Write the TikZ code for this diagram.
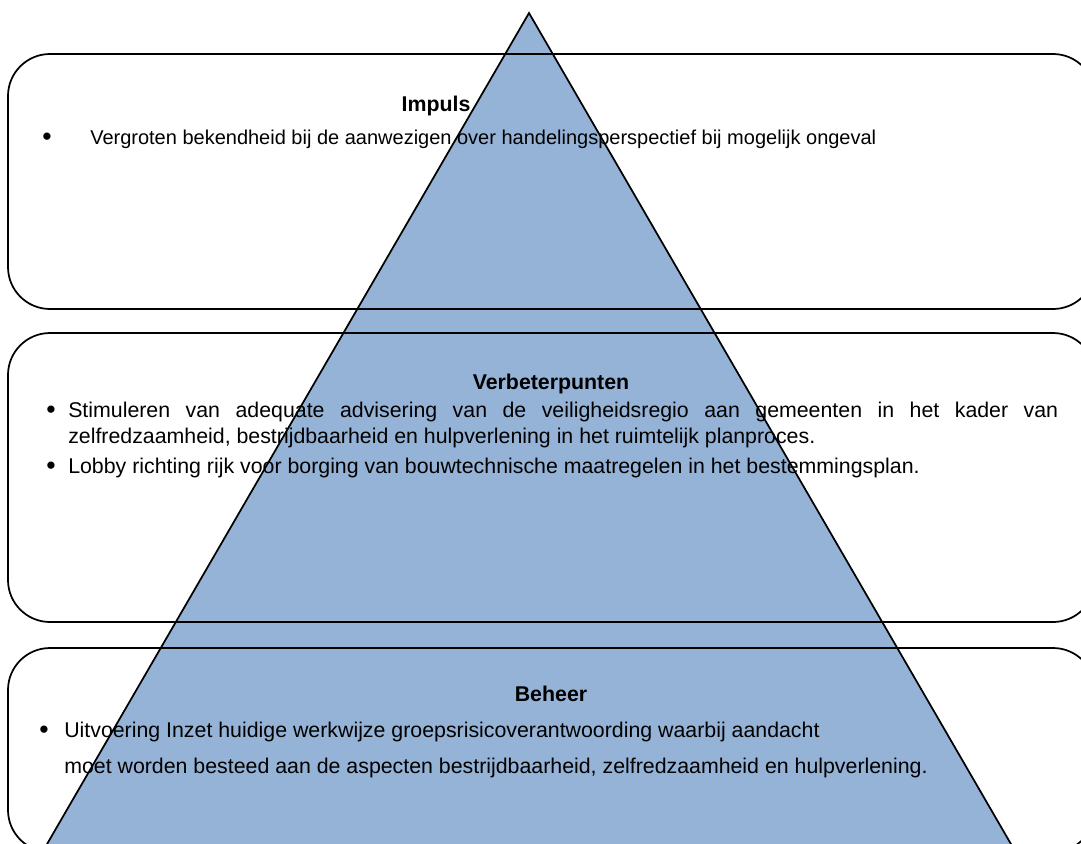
\documentclass[tikz,border=0pt]{standalone}
\usepackage{fontspec}
\setmainfont{Liberation Sans}
\definecolor{pyramidblue}{RGB}{149,179,215}
\tikzset{
  panel/.style={line width=1.3pt, rounded corners=31.5pt},
  head/.style={anchor=base, inner sep=0pt, font=\bfseries\fontsize{16}{19}\selectfont},
  txt/.style={anchor=base west, inner sep=0pt, font=\fontsize{16}{19}\selectfont},
  smalltxt/.style={anchor=base west, inner sep=0pt, font=\fontsize{15}{18}\selectfont},
  dot/.style={anchor=base, inner sep=0pt, font=\fontsize{20}{22}\selectfont}
}

\begin{document}
\begin{tikzpicture}[x=0.75pt,y=-0.75pt]
\useasboundingbox (0,0) rectangle (1081,843);
\fill[white] (0,0) rectangle (1081,843);

% pyramid
\draw[line width=1.3pt, fill=pyramidblue, line join=miter] (529,13) -- (1015,851) -- (43,851) -- cycle;

% panels
\draw[panel] (8,54) rectangle (1095,309);
\draw[panel] (8,333) rectangle (1095,622);
\draw[panel] (8,648) rectangle (1095,852);

% impuls
\node[head] (impuls) at (436,111) {Impuls};
\node[dot] (b1) at (47,145) {\textbullet};
\node[smalltxt] (t1) at (90,144) {Vergroten bekendheid bij de aanwezigen over handelingsperspectief bij mogelijk ongeval};

% verbeterpunten
\node[head] (verbeter) at (551,389) {Verbeterpunten};
\node[dot] (b2) at (51,418) {\textbullet};
\node[txt] (t2a) at (68,417) {\makebox[742.5pt][s]{Stimuleren van adequate advisering van de veiligheidsregio aan gemeenten in het kader van}};
\node[txt] (t2b) at (68,443) {zelfredzaamheid, bestrijdbaarheid en hulpverlening in het ruimtelijk planproces.};
\node[dot] (b3) at (51,474) {\textbullet};
\node[txt] (t3) at (68,473) {Lobby richting rijk voor borging van bouwtechnische maatregelen in het bestemmingsplan.};

% beheer
\node[head] (beheer) at (551,701) {Beheer};
\node[dot] (b4) at (44,738) {\textbullet};
\node[txt] (t4a) at (64,737) {Uitvoering Inzet huidige werkwijze groepsrisicoverantwoording waarbij aandacht};
\node[txt] (t4b) at (64,773) {moet worden besteed aan de aspecten bestrijdbaarheid, zelfredzaamheid en hulpverlening.};
\end{tikzpicture}
\end{document}
